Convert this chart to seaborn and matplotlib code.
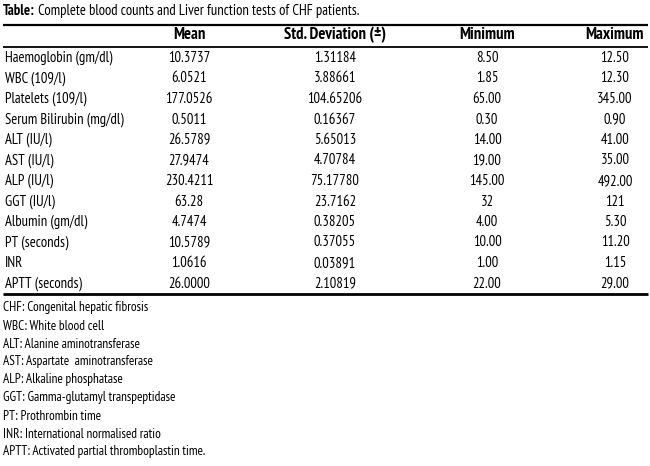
import matplotlib
matplotlib.use("Agg")
import matplotlib.pyplot as plt
import seaborn as sns
from matplotlib import font_manager as fm

sns.set_theme(style="white")
avail = {f.name for f in fm.fontManager.ttflist}
prefs = ["PT Sans Narrow", "Fira Sans Condensed", "Encode Sans Condensed", "Archivo Narrow",
         "Roboto Condensed", "Open Sans Condensed", "Asap Condensed", "Liberation Sans Narrow",
         "DejaVu Sans"]
FAM = next(p for p in prefs if p in avail or p == "DejaVu Sans")
plt.rcParams["font.family"] = [FAM, "DejaVu Sans"]
plt.rcParams["text.color"] = "black"

title_bold = "Table:"
title_rest = " Complete blood counts and Liver function tests of CHF patients."
headers = ["Mean", "Std. Deviation (\u00b1)", "Minimum", "Maximum"]
variables = ["Haemoglobin (gm/dl)", "WBC (109/l)", "Platelets (109/l)", "Serum Bilirubin (mg/dl)",
             "ALT (IU/l)", "AST (IU/l)", "ALP (IU/l)", "GGT (IU/l)", "Albumin (gm/dl)",
             "PT (seconds)", "INR", "APTT (seconds)"]
means = ["10.3737", "6.0521", "177.0526", "0.5011", "26.5789", "27.9474", "230.4211",
         "63.28", "4.7474", "10.5789", "1.0616", "26.0000"]
sds = ["1.31184", "3.88661", "104.65206", "0.16367", "5.65013", "4.70784", "75.17780",
       "23.7162", "0.38205", "0.37055", "0.03891", "2.10819"]
mins = ["8.50", "1.85", "65.00", "0.30", "14.00", "19.00", "145.00", "32", "4.00",
        "10.00", "1.00", "22.00"]
maxs = ["12.50", "12.30", "345.00", "0.90", "41.00", "35.00", "492.00", "121", "5.30",
        "11.20", "1.15", "29.00"]
footnotes = ["CHF: Congenital hepatic fibrosis", "WBC: White blood cell",
             "ALT: Alanine aminotransferase", "AST: Aspartate  aminotransferase",
             "ALP: Alkaline phosphatase", "GGT: Gamma-glutamyl transpeptidase",
             "PT: Prothrombin time", "INR: International normalised ratio",
             "APTT: Activated partial thromboplastin time."]

fig = plt.figure(figsize=(6.5, 4.66), dpi=100)
ax = fig.add_axes([0, 0, 1, 1])
ax.set_xlim(0, 650)
ax.set_ylim(466, 0)
ax.axis("off")

col_x = [189, 335, 487, 615]
row0, drow = 58, 20.5
fs = 10.5

# title
t = ax.text(3, 11, title_bold, fontsize=fs, fontweight="bold", va="center", ha="left")
fig.canvas.draw()
bb = t.get_window_extent().transformed(ax.transData.inverted())
ax.text(bb.x1, 11, title_rest, fontsize=fs, va="center", ha="left")

# rules
ax.hlines([25], 3, 648, color="black", lw=1.6)
ax.hlines([46.5], 3, 648, color="black", lw=1.3)
ax.hlines([294], 3, 648, color="black", lw=2.0)

for x, h in zip(col_x, headers):
    ax.text(x, 35, h, fontsize=12, fontweight="bold", ha="center", va="center")

for i, v in enumerate(variables):
    y = row0 + i * drow
    ax.text(5, y, v, fontsize=fs, ha="left", va="center")
    for x, col in zip(col_x, [means, sds, mins, maxs]):
        ax.text(x, y, col[i], fontsize=fs, ha="center", va="center")

for j, f in enumerate(footnotes):
    ax.text(3, 308 + j * 18, f, fontsize=9.5, ha="left", va="center")

fig.savefig("out.png", dpi=100)
